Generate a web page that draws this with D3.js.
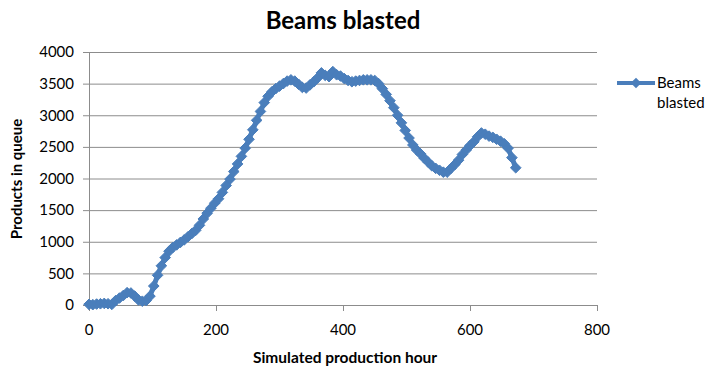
<!DOCTYPE html>
<html>
<head>
<meta charset="utf-8">
<script src="https://cdn.jsdelivr.net/npm/d3@7"></script>
<style>
  body { margin: 0; background: #fff; }
  text { font-family: Lato, "Open Sans", sans-serif; fill: #000; }
</style>
</head>
<body>
<div id="chart"></div>
<script>
// simulated production hours (one reading every 6 hours)
var hours = d3.range(0, 673, 6);
// products in queue
var queue = [
  10, 5, 15, 20, 25, 20, 10, 70, 110, 150,
  195, 190, 140, 80, 60, 70, 140, 300, 470, 620,
  750, 850, 910, 950, 990, 1030, 1080, 1130, 1180, 1260,
  1360, 1450, 1530, 1610, 1680, 1780, 1890, 1990, 2110, 2230,
  2350, 2480, 2620, 2770, 2920, 3060, 3200, 3300, 3370, 3420,
  3460, 3500, 3540, 3560, 3540, 3490, 3440, 3430, 3480, 3530,
  3590, 3670, 3630, 3610, 3690, 3640, 3620, 3580, 3550, 3530,
  3540, 3550, 3560, 3560, 3560, 3550, 3500, 3420, 3330, 3230,
  3120, 3000, 2880, 2760, 2640, 2530, 2450, 2390, 2320, 2260,
  2200, 2160, 2130, 2100, 2100, 2160, 2220, 2290, 2380, 2450,
  2520, 2580, 2660, 2720, 2700, 2670, 2650, 2620, 2590, 2550,
  2480, 2330, 2170
];
var xTicks = [0, 200, 400, 600, 800];
var yTicks = [0, 500, 1000, 1500, 2000, 2500, 3000, 3500, 4000];
var seriesName = ["Beams", "blasted"];

var data = hours.map(function (h, i) { return { h: h, v: queue[i] }; });

var margin = { top: 52, right: 111, bottom: 70, left: 89 },
  width = 708 - margin.left - margin.right,
  height = 375 - margin.top - margin.bottom;

var root = d3.select("#chart").append("svg")
  .attr("width", 708)
  .attr("height", 375);

var svg = root.append("g")
  .attr("transform", "translate(" + margin.left + "," + margin.top + ")");

var x = d3.scaleLinear().domain([0, 800]).range([0, width]);
var y = d3.scaleLinear().domain([0, 4000]).range([height, 0]);

// gridlines
svg.selectAll(".grid")
  .data(yTicks)
  .enter()
  .append("line")
  .attr("x1", -6)
  .attr("x2", width)
  .attr("y1", function (d) { return y(d) + 0.5; })
  .attr("y2", function (d) { return y(d) + 0.5; })
  .style("stroke", "#8c8c8c")
  .style("stroke-width", 1);

// y axis line
svg.append("line")
  .attr("x1", 0.5).attr("x2", 0.5)
  .attr("y1", 0).attr("y2", height)
  .style("stroke", "#8c8c8c");

// x tick marks
svg.selectAll(".xtick")
  .data(xTicks)
  .enter()
  .append("line")
  .attr("x1", function (d) { return Math.round(x(d)) + 0.5; })
  .attr("x2", function (d) { return Math.round(x(d)) + 0.5; })
  .attr("y1", height)
  .attr("y2", height + 6)
  .style("stroke", "#8c8c8c");

// tick labels
svg.selectAll(".ylab")
  .data(yTicks)
  .enter()
  .append("text")
  .attr("x", -15)
  .attr("y", function (d) { return y(d); })
  .attr("dy", "0.35em")
  .attr("text-anchor", "end")
  .style("font-size", "15px")
  .text(function (d) { return d; });

svg.selectAll(".xlab")
  .data(xTicks)
  .enter()
  .append("text")
  .attr("x", function (d) { return x(d); })
  .attr("y", height + 25)
  .attr("dy", "0.35em")
  .attr("text-anchor", "middle")
  .style("font-size", "15px")
  .text(function (d) { return d; });

// series line + diamond markers
var color = "#4a7ebb";
var line = d3.line()
  .x(function (d) { return x(d.h); })
  .y(function (d) { return y(d.v); });

svg.append("path")
  .datum(data)
  .attr("d", line)
  .style("fill", "none")
  .style("stroke", color)
  .style("stroke-width", 5)
  .style("stroke-linejoin", "round");

var diamond = d3.symbol().type(d3.symbolDiamond2).size(72);
svg.selectAll(".pt")
  .data(data)
  .enter()
  .append("path")
  .attr("d", diamond)
  .attr("transform", function (d) { return "translate(" + x(d.h) + "," + y(d.v) + ")"; })
  .style("fill", color)
  .style("stroke", color)
  .style("stroke-width", 1);

// titles
root.append("text")
  .attr("x", 343)
  .attr("y", 21)
  .attr("dy", "0.35em")
  .attr("text-anchor", "middle")
  .style("font-size", "24px")
  .style("font-weight", "bold")
  .text("Beams blasted");

root.append("text")
  .attr("x", 345)
  .attr("y", 358)
  .attr("dy", "0.35em")
  .attr("text-anchor", "middle")
  .style("font-size", "15.5px")
  .style("font-weight", "bold")
  .text("Simulated production hour");

root.append("text")
  .attr("transform", "translate(17,179) rotate(-90)")
  .attr("dy", "0.35em")
  .attr("text-anchor", "middle")
  .style("font-size", "15px")
  .style("font-weight", "bold")
  .text("Products in queue");

// legend
var legend = root.append("g").attr("transform", "translate(617,83)");
legend.append("line")
  .attr("x1", 0).attr("x2", 38)
  .attr("y1", 0).attr("y2", 0)
  .style("stroke", color)
  .style("stroke-width", 4);
legend.append("path")
  .attr("d", diamond)
  .attr("transform", "translate(19,0)")
  .style("fill", color);
legend.selectAll("text")
  .data(seriesName)
  .enter()
  .append("text")
  .attr("x", 40)
  .attr("y", function (d, i) { return i * 20; })
  .attr("dy", "0.35em")
  .style("font-size", "15px")
  .text(function (d) { return d; });
</script>
</body>
</html>
